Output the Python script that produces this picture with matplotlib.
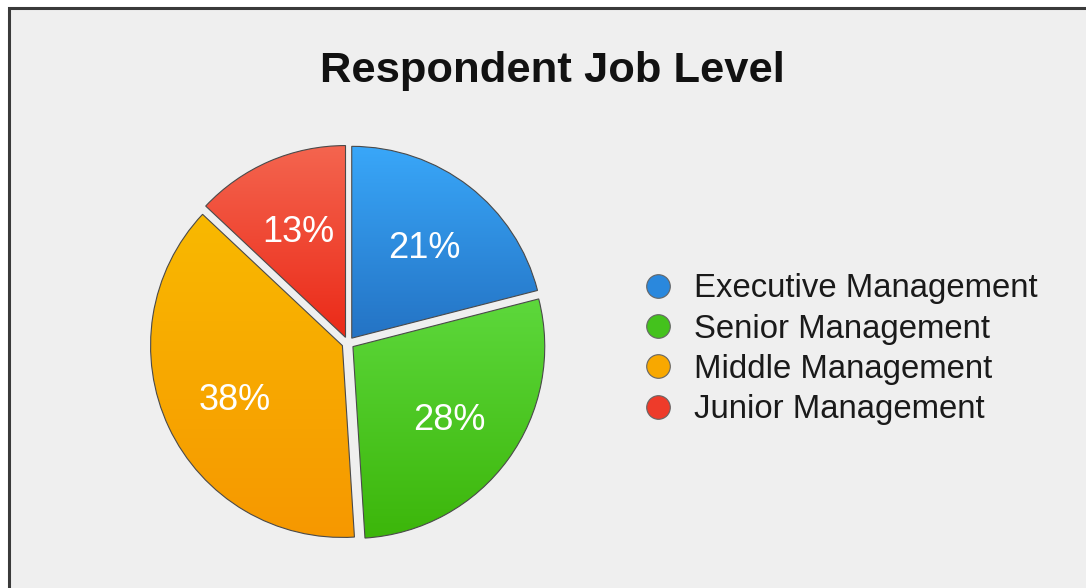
import matplotlib.pyplot as plt
import numpy as np
from matplotlib.colors import LinearSegmentedColormap
from matplotlib.lines import Line2D
from matplotlib.patches import Rectangle

plt.rcParams['font.family'] = ['Liberation Sans', 'DejaVu Sans']

# data
levels = ['Executive Management', 'Senior Management', 'Middle Management', 'Junior Management']
shares = [21, 28, 38, 13]

# slice gradients (top colour, bottom colour) and legend dot colours
grad_top = ['#39a7f9', '#5dd83c', '#f9b900', '#f4654f']
grad_bottom = ['#2473c4', '#3cb60a', '#f69800', '#eb2a18']
dot_colors = ['#2a88dd', '#44c21d', '#f8a800', '#ee3b2a']

fig = plt.figure(figsize=(10.86, 5.88), dpi=100)
fig.patch.set_facecolor('white')

# panel background with dark frame on top/left
panel = Rectangle((9 / 1086, -0.1), 1.2, 1 - 8 / 588 + 0.1, transform=fig.transFigure,
                  facecolor='#efefef', edgecolor='#3a3a3a', linewidth=2.2, zorder=-1)
fig.patches.append(panel)

ax = fig.add_axes([0.1261, 0.0578, 0.3886, 0.7177])
ax.set_xlim(-1.1, 1.1)
ax.set_ylim(-1.1, 1.1)
ax.set_aspect('equal')
ax.axis('off')

wedges, texts, autotexts = ax.pie(
    shares, startangle=90, counterclock=False, radius=1.0,
    explode=[0.032] * len(shares),
    autopct=lambda p: f'{p:.0f}%', pctdistance=0.62,
    wedgeprops=dict(edgecolor='#4a4a4a', linewidth=0.8),
    textprops=dict(color='white', fontsize=26))

# vertical gradient fill clipped to each wedge
for w, top, bot in zip(wedges, grad_top, grad_bottom):
    cx, cy = w.center
    th = np.radians(np.linspace(w.theta1, w.theta2, 200))
    xs = np.concatenate([[cx], cx + w.r * np.cos(th)])
    ys = np.concatenate([[cy], cy + w.r * np.sin(th)])
    cmap = LinearSegmentedColormap.from_list('g', [bot, top])
    grad = np.linspace(0, 1, 256).reshape(-1, 1)
    im = ax.imshow(grad, cmap=cmap, origin='lower', aspect='auto',
                   extent=[xs.min(), xs.max(), ys.min(), ys.max()], zorder=1)
    im.set_clip_path(w)
    w.set_facecolor('none')
    w.set_zorder(2)

# percentage labels sit a little below the slice centre line
for t in autotexts:
    x, y = t.get_position()
    t.set_position((x, y - 0.02))
    t.set_zorder(3)

ax.set_xlim(-1.1, 1.1)
ax.set_ylim(-1.1, 1.1)

fig.text(0.509, 0.880, 'Respondent Job Level', ha='center', va='center',
         fontsize=31.3, fontweight='bold', color='#111111')

handles = [Line2D([], [], linestyle='', marker='o', markersize=17,
                  markerfacecolor=c, markeredgecolor='#666666', markeredgewidth=0.8)
           for c in dot_colors]
fig.legend(handles, levels, loc='center left', bbox_to_anchor=(0.579, 0.406),
           frameon=False, fontsize=23.7, handlelength=0.8, handletextpad=0.67,
           labelspacing=0.28, borderpad=0, labelcolor='#1a1a1a')

plt.savefig('out.png', dpi=100, facecolor='white')
plt.close()
